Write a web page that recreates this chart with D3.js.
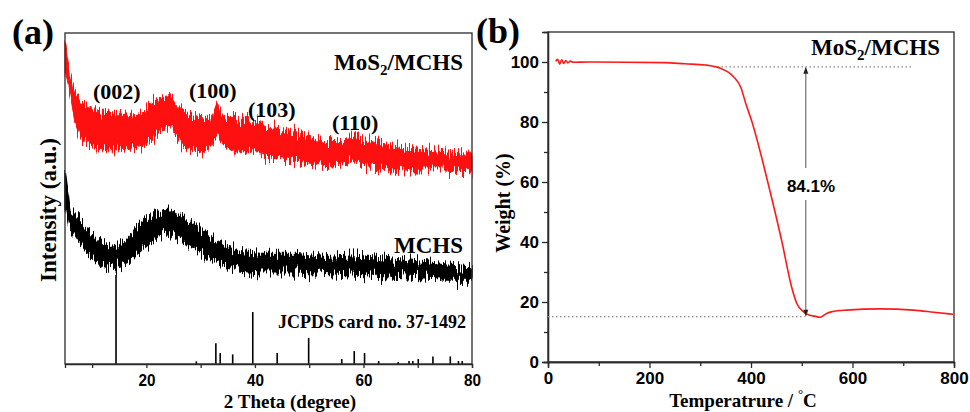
<!DOCTYPE html>
<html>
<head>
<meta charset="utf-8">
<script src="https://d3js.org/d3.v7.min.js"></script>
<style>
  body { margin: 0; background: #fff; }
  svg { display: block; }
</style>
</head>
<body>
<svg id="fig" width="970" height="412"></svg>
<script>
//==================================== data (a) XRD ====================================
// MoS2/MCHS noisy trace, read as upper / lower envelope
var redTheta = [5, 5.9, 6.8, 7.8, 9.6, 11.5, 15.1, 18.8, 20.7, 22.5, 24.4, 25.6, 26.8, 28.7, 30.5, 31.7, 33.0, 34.2, 36.0, 38.5, 41.0, 41.9, 45.6, 49.3, 52.9, 56.0, 58.2, 60.3, 64.0, 67.7, 71.4, 75.1, 79.1, 80];
var redTop = [97.4, 87.3, 82.3, 79.2, 78.2, 76.2, 75.2, 76.2, 78.9, 80.3, 80.8, 78.2, 76.2, 75.2, 74.3, 73.2, 79.2, 74.2, 74.2, 74.2, 73.2, 71.2, 70.7, 69.2, 67.2, 67.2, 69.2, 67.7, 66.2, 65.2, 64.7, 64.1, 63.7, 63.7];
var redBottom = [89.0, 82.2, 73.2, 68.3, 66.2, 64.7, 64.7, 65.6, 67.2, 70.2, 71.2, 68.3, 65.2, 64.7, 63.7, 65.3, 69.2, 66.2, 64.1, 64.1, 64.1, 63.1, 62.1, 60.6, 59.6, 60.1, 62.1, 59.6, 59.1, 58.6, 58.6, 58.6, 58.1, 58.1];

// MCHS
var blackTheta = [5, 5.9, 7.8, 9.6, 11.5, 13.3, 15.1, 17.0, 18.8, 20.7, 22.5, 24.4, 26.2, 28.1, 29.9, 32.3, 34.8, 37.3, 41, 47.4, 52.9, 58.5, 64, 69.5, 75.1, 79.1, 80];
var blackTop = [58.6, 46.5, 43.5, 39.6, 36.9, 35.4, 36.0, 38.5, 42.5, 44.5, 46.0, 46.5, 45.0, 42.5, 40.5, 38.0, 35.4, 33.9, 33.4, 33.4, 32.4, 32.9, 31.9, 30.9, 29.9, 29.4, 29.4];
var blackBottom = [49.0, 41.5, 36.5, 32.4, 29.9, 28.9, 29.9, 31.4, 33.9, 36.5, 39.0, 39.5, 37.5, 35.4, 33.9, 31.4, 29.4, 28.4, 27.9, 27.9, 27.4, 26.9, 26.4, 25.9, 25.4, 25.4, 25.4];

// JCPDS card no. 37-1492 reference lines
var refTheta = [14.4, 29.2, 32.8, 33.6, 35.9, 39.6, 44.1, 49.9, 56.0, 58.3, 60.2, 62.8, 66.4, 68.4, 69.1, 70.1, 72.8, 76.0, 77.5, 78.2];
var refInt = [26.9, 0.8, 6.3, 3.3, 2.9, 15.7, 3.3, 7.9, 1.5, 3.9, 3.3, 0.9, 0.6, 0.9, 0.9, 1.5, 2.3, 2.3, 0.9, 0.9];

var xrdTicks = [10, 20, 30, 40, 50, 60, 70, 80];
var peakLabels = ["(002)", "(100)", "(103)", "(110)"];

//==================================== data (b) TGA ====================================
var tgaTemp = [15, 19, 23, 27, 31, 35, 39, 44, 50, 80, 150, 230, 270, 310, 340, 365, 380, 390, 402, 433, 461, 480, 490, 503, 515, 525, 536, 549, 560, 588, 654, 720, 760, 798];
var tgaWeight = [100.2, 100.9, 99.3, 100.7, 99.5, 100.5, 99.7, 100.3, 99.9, 100, 99.9, 99.8, 99.4, 99.0, 97.9, 95.2, 91.5, 86, 80, 60, 40, 25, 19.6, 16.8, 15.6, 15.3, 14.9, 16.2, 16.8, 17.3, 17.7, 17.3, 16.6, 15.9];

var tempTicks = [0, 200, 400, 600, 800];
var tempMinor = [100, 300, 500, 700];
var weightTicks = [0, 20, 40, 60, 80, 100];
var weightMinor = [10, 30, 50, 70, 90];
var lossLabel = "84.1%";

var serif = "'Liberation Serif', 'Times New Roman', serif";
var sans = "'Liberation Sans', Arial, sans-serif";
var frameColor = "#2a2a2a";

var svg = d3.select("#fig");

//======================== edge texture for the noisy XRD traces ========================
// only roughens the drawn band outline (vertical shift), the values stay those above
var filt = svg.append("defs").append("filter")
  .attr("id", "rough")
  .attr("x", "-5%").attr("y", "-40%")
  .attr("width", "110%").attr("height", "180%")
  .attr("color-interpolation-filters", "sRGB");
filt.append("feTurbulence")
  .attr("type", "fractalNoise")
  .attr("baseFrequency", "0.75 0.02")
  .attr("numOctaves", 2)
  .attr("seed", 4)
  .attr("result", "n");
filt.append("feColorMatrix")
  .attr("in", "n")
  .attr("type", "matrix")
  .attr("values", "0 0 0 0 0.5  0 1 0 0 0  0 0 1 0 0  0 0 0 0 1")
  .attr("result", "m");
filt.append("feDisplacementMap")
  .attr("in", "SourceGraphic")
  .attr("in2", "m")
  .attr("scale", 26)
  .attr("xChannelSelector", "R")
  .attr("yChannelSelector", "G");

//==================================== panel (a) ====================================
var xA = d3.scaleLinear().domain([5, 80]).range([65, 472]);
var yA = d3.scaleLinear().domain([0, 100]).range([364, 33]);

var gA = svg.append("g");

function band(theta, top, bottom) {
  var rows = [];
  for (var i = 0; i < theta.length; i++) {
    rows.push([theta[i], top[i], bottom[i]]);
  }
  return rows;
}

var area = d3.area()
  .x(function(d) { return xA(d[0]); })
  .y0(function(d) { return yA(d[2]); })
  .y1(function(d) { return yA(d[1]); });

gA.append("path")
  .datum(band(redTheta, redTop, redBottom))
  .attr("d", area)
  .attr("fill", "#ff1010")
  .attr("stroke", "#ff1010")
  .attr("stroke-width", 1)
  .attr("filter", "url(#rough)");

gA.append("path")
  .datum(band(blackTheta, blackTop, blackBottom))
  .attr("d", area)
  .attr("fill", "#000")
  .attr("stroke", "#000")
  .attr("stroke-width", 1.5)
  .attr("filter", "url(#rough)");

gA.selectAll("line.ref")
  .data(refTheta)
  .enter()
  .append("line")
  .attr("class", "ref")
  .attr("x1", function(d) { return xA(d); })
  .attr("x2", function(d) { return xA(d); })
  .attr("y1", yA(0))
  .attr("y2", function(d, i) { return yA(refInt[i]); })
  .attr("stroke", "#000")
  .attr("stroke-width", 1.6);

// frame
gA.append("rect")
  .attr("x", 65).attr("y", 33)
  .attr("width", 472 - 65).attr("height", 364 - 33)
  .attr("fill", "none")
  .attr("stroke", frameColor)
  .attr("stroke-width", 1.3);

var axA = gA.append("g")
  .attr("transform", "translate(0," + yA(0) + ")")
  .call(d3.axisBottom(xA)
    .tickValues(xrdTicks)
    .tickSize(4)
    .tickPadding(6)
    .tickFormat(function(d) { return d % 20 == 0 ? d : ""; }));
axA.select(".domain").attr("stroke", frameColor).attr("stroke-width", 1.3);
axA.selectAll(".tick line").attr("stroke", frameColor).attr("stroke-width", 1.3);
axA.selectAll(".tick text")
  .attr("font-family", sans)
  .attr("font-weight", "bold")
  .attr("font-size", 17)
  .attr("fill", "#000")
  .filter(function(d) { return d % 20 == 0; })
  .attr("textLength", 17)
  .attr("lengthAdjust", "spacingAndGlyphs");

// labels
gA.append("text")
  .attr("x", 12).attr("y", 44)
  .attr("font-family", serif).attr("font-weight", "bold").attr("font-size", 36)
  .text("(a)");

gA.append("text")
  .attr("transform", "translate(56,210) rotate(-90)")
  .attr("text-anchor", "middle")
  .attr("font-family", serif).attr("font-weight", "bold").attr("font-size", 23)
  .text("Intensity (a.u.)");

gA.append("text")
  .attr("x", 290).attr("y", 408)
  .attr("text-anchor", "middle")
  .attr("font-family", serif).attr("font-weight", "bold").attr("font-size", 19)
  .text("2 Theta (degree)");

var mosA = gA.append("text")
  .attr("x", 463).attr("y", 70)
  .attr("text-anchor", "end")
  .attr("font-family", serif).attr("font-weight", "bold").attr("font-size", 23);
mosA.append("tspan").text("MoS");
mosA.append("tspan").attr("dy", 5).attr("font-size", 15).text("2");
mosA.append("tspan").attr("dy", -5).text("/MCHS");

gA.append("text")
  .attr("x", 463).attr("y", 253)
  .attr("text-anchor", "end")
  .attr("font-family", serif).attr("font-weight", "bold").attr("font-size", 23)
  .text("MCHS");

gA.append("text")
  .attr("x", 466).attr("y", 328)
  .attr("text-anchor", "end")
  .attr("font-family", serif).attr("font-weight", "bold").attr("font-size", 18)
  .text("JCPDS card no. 37-1492");

var peakPos = [[93, 99], [189, 98], [248, 117], [332, 130]];
gA.selectAll("text.peak")
  .data(peakLabels)
  .enter()
  .append("text")
  .attr("class", "peak")
  .attr("x", function(d, i) { return peakPos[i][0]; })
  .attr("y", function(d, i) { return peakPos[i][1]; })
  .attr("font-family", serif).attr("font-weight", "bold").attr("font-size", 22)
  .text(function(d) { return d; });

//==================================== panel (b) ====================================
var xB = d3.scaleLinear().domain([0, 800]).range([548, 954]);
var yB = d3.scaleLinear().domain([0, 110]).range([362, 32]);

var gB = svg.append("g");

gB.append("rect")
  .attr("x", 548).attr("y", 32)
  .attr("width", 954 - 548).attr("height", 362 - 32)
  .attr("fill", "none")
  .attr("stroke", frameColor)
  .attr("stroke-width", 1.3);

function styleAxis(ax) {
  ax.select(".domain").attr("stroke", frameColor).attr("stroke-width", 1.3);
  ax.selectAll(".tick line").attr("stroke", frameColor).attr("stroke-width", 1.3);
  ax.selectAll(".tick text")
    .attr("font-family", sans)
    .attr("font-weight", "bold")
    .attr("font-size", 17)
    .attr("fill", "#000");
}

var axBx = gB.append("g")
  .attr("transform", "translate(0," + yB(0) + ")")
  .call(d3.axisBottom(xB).tickValues(tempTicks).tickSize(6).tickPadding(4));
styleAxis(axBx);
var axBxm = gB.append("g")
  .attr("transform", "translate(0," + yB(0) + ")")
  .call(d3.axisBottom(xB).tickValues(tempMinor).tickSize(4).tickFormat(""));
styleAxis(axBxm);

var axBy = gB.append("g")
  .attr("transform", "translate(" + xB(0) + ",0)")
  .call(d3.axisLeft(yB).tickValues(weightTicks).tickSize(6).tickPadding(3));
styleAxis(axBy);
var axBym = gB.append("g")
  .attr("transform", "translate(" + xB(0) + ",0)")
  .call(d3.axisLeft(yB).tickValues(weightMinor).tickSize(4).tickFormat(""));
styleAxis(axBym);

// dotted guide lines
var guides = [[326, 720, 98.4], [0, 506, 15.1]];
gB.selectAll("line.guide")
  .data(guides)
  .enter()
  .append("line")
  .attr("class", "guide")
  .attr("x1", function(d) { return xB(d[0]); })
  .attr("x2", function(d) { return xB(d[1]); })
  .attr("y1", function(d) { return yB(d[2]); })
  .attr("y2", function(d) { return yB(d[2]); })
  .attr("stroke", "#888")
  .attr("stroke-width", 1.2)
  .attr("stroke-dasharray", "1.5,2.5");

// TGA curve
var line = d3.line()
  .x(function(d, i) { return xB(tgaTemp[i]); })
  .y(function(d) { return yB(d); })
  .curve(d3.curveMonotoneX);

gB.append("path")
  .datum(tgaWeight)
  .attr("d", line)
  .attr("fill", "none")
  .attr("stroke", "#ff1a1a")
  .attr("stroke-width", 1.6);

// double arrow for the weight loss
var ax = xB(508), yTop = yB(98.4), yBot = yB(15.1);
gB.append("line")
  .attr("x1", ax).attr("x2", ax).attr("y1", yTop + 6).attr("y2", 168)
  .attr("stroke", "#555").attr("stroke-width", 1);
gB.append("line")
  .attr("x1", ax).attr("x2", ax).attr("y1", 200).attr("y2", yBot - 6)
  .attr("stroke", "#555").attr("stroke-width", 1);
gB.append("path")
  .attr("d", "M" + ax + "," + yTop + "l-2.5,7h5z")
  .attr("fill", "#222");
gB.append("path")
  .attr("d", "M" + ax + "," + yBot + "l-2.5,-7h5z")
  .attr("fill", "#222");

gB.append("text")
  .attr("x", 811).attr("y", 192)
  .attr("text-anchor", "middle")
  .attr("font-family", sans).attr("font-weight", "bold").attr("font-size", 17)
  .text(lossLabel);

gB.append("text")
  .attr("x", 476).attr("y", 43)
  .attr("font-family", serif).attr("font-weight", "bold").attr("font-size", 36)
  .text("(b)");

gB.append("text")
  .attr("transform", "translate(510,203) rotate(-90)")
  .attr("text-anchor", "middle")
  .attr("font-family", serif).attr("font-weight", "bold").attr("font-size", 20)
  .text("Weight (%)");

var tLabel = gB.append("text")
  .attr("x", 743).attr("y", 407)
  .attr("text-anchor", "middle")
  .attr("font-family", serif).attr("font-weight", "bold").attr("font-size", 19);
tLabel.append("tspan").text("Temperatrure / ");
tLabel.append("tspan").attr("dy", -9).attr("font-size", 13).attr("font-weight", "normal").text("\u00B0");
tLabel.append("tspan").attr("dy", 9).text("C");

var mosB = gB.append("text")
  .attr("x", 940).attr("y", 55)
  .attr("text-anchor", "end")
  .attr("font-family", serif).attr("font-weight", "bold").attr("font-size", 23);
mosB.append("tspan").text("MoS");
mosB.append("tspan").attr("dy", 5).attr("font-size", 15).text("2");
mosB.append("tspan").attr("dy", -5).text("/MCHS");
</script>
</body>
</html>
